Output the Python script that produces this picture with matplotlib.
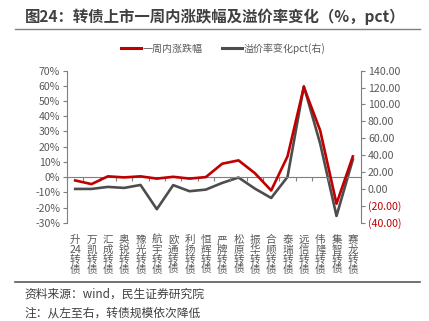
import matplotlib
matplotlib.use("Agg")
from matplotlib import pyplot as plt
from matplotlib.lines import Line2D
import numpy as np

plt.rcParams['font.family'] = ['Noto Sans CJK SC', 'DejaVu Sans']

# data
bonds = ["升24", "万凯", "汇成", "奥锐", "豫光", "航宇", "欧通", "利扬", "恒辉",
         "严牌", "松原", "振华", "合顺", "泰瑞", "远信", "伟隆", "集智", "赛龙"]
week_change = [-2.2, -4.6, 0.5, -0.2, 0.5, -1.0, 0.2, -1.0, 0.0,
               8.8, 11.0, 2.6, -8.8, 13.6, 59.2, 30.7, -17.5, 13.6]
premium_change = [0.0, 0.0, 2.4, 1.2, 4.7, -24.0, 4.5, -2.7, -0.8,
                  7.1, 13.5, 0.4, -10.7, 14.2, 121.6, 53.7, -32.0, 34.8]

left_ticks = np.arange(-30, 71, 10)
right_ticks = np.arange(-40, 141, 20)

red = "#C00000"
grey = "#4D4D4D"
txt = "#595959"

fig = plt.figure(figsize=(4.29, 3.21), dpi=100)
ax = fig.add_axes([0.1562, 0.3062, 0.6853, 0.4736])
ax2 = ax.twinx()

x = np.arange(len(bonds))
ax.plot(x, week_change, color=red, lw=1.9, zorder=3)
ax2.plot(x, premium_change, color=grey, lw=1.9, zorder=2)
ax.set_zorder(ax2.get_zorder() + 1)
ax.patch.set_visible(False)

ax.set_xlim(-0.5, len(bonds) - 0.5)
ax.set_ylim(-30, 70)
ax2.set_ylim(-40, 140)

# left axis
ax.set_yticks(left_ticks)
ax.set_yticklabels([f"{v}%" for v in left_ticks], color=txt, fontsize=7.6)
# right axis
ax2.set_yticks(right_ticks)
labs = ax2.set_yticklabels([f"{v:.2f}" if v >= 0 else f"({-v:.2f})" for v in right_ticks],
                           fontsize=7.6)
for v, lab in zip(right_ticks, labs):
    lab.set_color(red if v < 0 else txt)

for a in (ax, ax2):
    a.spines['top'].set_visible(False)
    for s in ('left', 'right', 'bottom'):
        a.spines[s].set_color("#7F7F7F")
        a.spines[s].set_linewidth(0.8)
    a.tick_params(axis='y', length=3, width=0.8, color="#7F7F7F", pad=2)
ax2.spines['bottom'].set_visible(False)
ax2.spines['left'].set_visible(False)
ax.spines['right'].set_visible(False)

# category axis along the 0% line
ax.spines['bottom'].set_position(('data', 0))
ax.set_xticks(np.arange(-0.5, len(bonds) + 0.5, 1))
ax.set_xticklabels([])
ax.tick_params(axis='x', length=3, width=0.8, color="#7F7F7F", direction='out')
ax2.tick_params(axis='x', length=0)

for i, name in enumerate(bonds):
    if name[0].isdigit() or name[1].isdigit():
        label = name[0] + "\n" + name[1:] + "\n转\n债"
    else:
        label = "\n".join(name + "转债")
    ax.text(i, -0.08, label, transform=ax.get_xaxis_transform(), ha='center', va='top',
            fontsize=7.6, color=txt, linespacing=0.98)

# title and rules
fig.text(0.058, 0.948, "图24：转债上市一周内涨跌幅及溢价率变化（%，pct）", fontsize=11.1,
         fontweight='bold', color="#404040", va='center', ha='left')
fig.add_artist(Line2D([0.035, 0.98], [0.909, 0.909], color="#7F7F7F", lw=1.0))
fig.add_artist(Line2D([0.035, 0.98], [0.121, 0.121], color="#595959", lw=1.2))

handles = [Line2D([], [], color=red, lw=2.2), Line2D([], [], color=grey, lw=2.2)]
fig.legend(handles, ["一周内涨跌幅", "溢价率变化pct(右)"], loc='center', ncol=2,
           bbox_to_anchor=(0.52, 0.85), frameon=False, fontsize=7.2, handlelength=2.0,
           handletextpad=0.1, columnspacing=2.0, labelcolor=txt)

fig.text(0.056, 0.085, "资料来源：wind，民生证券研究院", fontsize=8.5, color="#404040",
         va='center', ha='left')
fig.text(0.056, 0.025, "注：从左至右，转债规模依次降低", fontsize=8.5, color="#404040",
         va='center', ha='left')

fig.savefig("out.png", dpi=100)
